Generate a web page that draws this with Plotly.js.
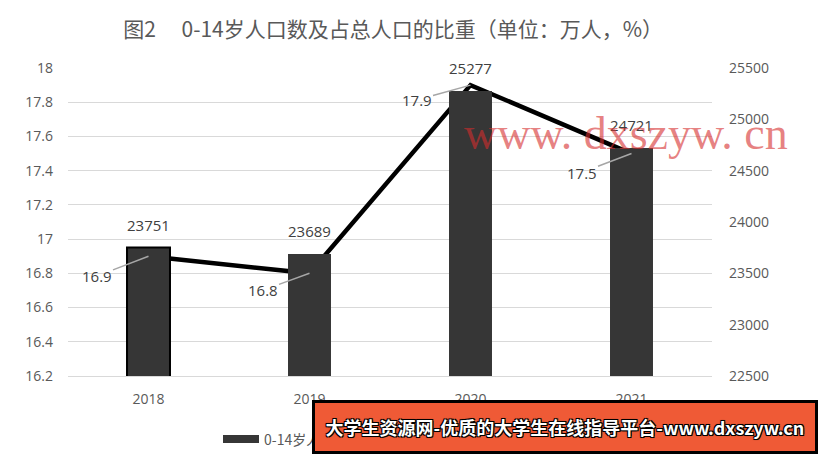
<!DOCTYPE html>
<html>
<head>
<meta charset="utf-8">
<script src="https://cdn.plot.ly/plotly-3.0.1.min.js"></script>
<style>html,body{margin:0;padding:0;background:#fff;}#chart{width:819px;height:454px;}</style>
</head>
<body>
<div id="chart"></div>
<script>
const years = ['2018', '2019', '2020', '2021'];
const population = [23751, 23689, 25277, 24721];   // 万人, right axis (bars)
const share = [16.9, 16.8, 17.9, 17.5];             // %, left axis (line)
const barName = '0-14岁人口数';
const lineName = '占总人口比重';
const titleText = '图2\u3000 0-14岁人口数及占总人口的比重（单位：万人，%）';
const bannerText = '大学生资源网-优质的大学生在线指导平台-www.dxszyw.cn';
const watermarkText = 'www. dxszyw. cn';

const L = 68, R = 107, T = 68, B = 78, W = 819, H = 454;
const pw = W - L - R, ph = H - T - B;
const px = x => (x - L) / pw;
const py = y => (H - B - y) / ph;

const bars = {
  type: 'bar', x: years, y: population, yaxis: 'y2', name: barName,
  width: 0.267,
  marker: {color: '#363636', line: {color: '#000', width: [2, 0, 0, 0]}},
  hoverinfo: 'skip', showlegend: false
};
const line = {
  type: 'scatter', mode: 'lines', x: years, y: share, yaxis: 'y', name: lineName,
  line: {color: '#000', width: 4.5}, hoverinfo: 'skip', showlegend: false
};

const numFont = {family: 'Open Sans, DejaVu Sans, sans-serif', size: 15, color: '#404040'};
const annotations = [];
population.forEach((v, i) => {
  annotations.push({x: i, y: v, xref: 'x', yref: 'y2', text: String(v),
    showarrow: false, yanchor: 'bottom', yshift: 11, font: numFont});
});
const offs = [[-52, 20], [-47, 17], [-54, 15], [-50, 19]];
share.forEach((v, i) => {
  annotations.push({x: i, y: v, xref: 'x', yref: 'y', text: v.toFixed(1),
    showarrow: true, arrowhead: 0, arrowwidth: 1.5, arrowcolor: '#a6a6a6',
    ax: offs[i][0], ay: offs[i][1], standoff: 0, startstandoff: 0, font: numFont});
});
// watermark
annotations.push({xref: 'paper', yref: 'paper', x: px(626), y: py(133), text: watermarkText,
  showarrow: false, xanchor: 'center', yanchor: 'middle',
  font: {family: 'Liberation Serif, DejaVu Serif, serif', size: 46, color: 'rgba(214,45,45,0.6)'}});
// legend (manual)
annotations.push({xref: 'paper', yref: 'paper', x: px(262), y: py(439), text: barName,
  showarrow: false, xanchor: 'left', yanchor: 'middle',
  font: {family: 'Noto Sans CJK SC, sans-serif', size: 14, color: '#595959'}});
// banner (drawn last so it covers the legend text)
annotations.push({xref: 'paper', yref: 'paper', x: px(312), y: py(400), text: bannerText,
  showarrow: false, xanchor: 'left', yanchor: 'top', width: 496, height: 44, align: 'center',
  bgcolor: '#ef5a36', bordercolor: '#000', borderwidth: 3, borderpad: 2,
  font: {family: 'Noto Sans CJK SC, sans-serif', size: 18, color: '#fff', weight: 700,
    shadow: '-1px -1px 0 #000, 1px -1px 0 #000, -1px 1px 0 #000, 1px 1px 0 #000, 0 0 2px #000'}});

const shapes = [
  {type: 'rect', xref: 'paper', yref: 'paper', x0: px(223), x1: px(259), y0: py(443), y1: py(435),
    fillcolor: '#363636', line: {width: 0}}
];

const tickFont = {family: 'Open Sans, DejaVu Sans, sans-serif', size: 14, color: '#595959'};
const layout = {
  width: W, height: H,
  margin: {l: L, r: R, t: T, b: B},
  paper_bgcolor: '#fff', plot_bgcolor: '#fff',
  title: {text: titleText, x: 0.48, xanchor: 'center', y: 0.935, yanchor: 'middle',
    font: {family: 'Noto Sans CJK SC, sans-serif', size: 21, color: '#595959'}},
  xaxis: {type: 'category', range: [-0.5, 3.5], autorange: false, showgrid: false, zeroline: false,
    showline: true, linecolor: '#d9d9d9', linewidth: 1, ticks: '', ticklabelstandoff: 10, tickfont: tickFont},
  yaxis: {range: [16.2, 18], autorange: false, dtick: 0.2, tick0: 16.2, showgrid: true, gridcolor: '#d9d9d9',
    gridwidth: 1, zeroline: false, showline: false, ticks: '', ticklabelstandoff: 14, tickfont: tickFont},
  yaxis2: {overlaying: 'y', side: 'right', range: [22500, 25500], autorange: false, dtick: 500, tick0: 22500,
    tickformat: 'd', showgrid: false, zeroline: false, showline: false, ticks: '', ticklabelstandoff: 16,
    tickfont: tickFont},
  showlegend: false,
  annotations: annotations,
  shapes: shapes
};

Plotly.newPlot('chart', [bars, line], layout, {displayModeBar: false, staticPlot: true});
</script>
</body>
</html>
